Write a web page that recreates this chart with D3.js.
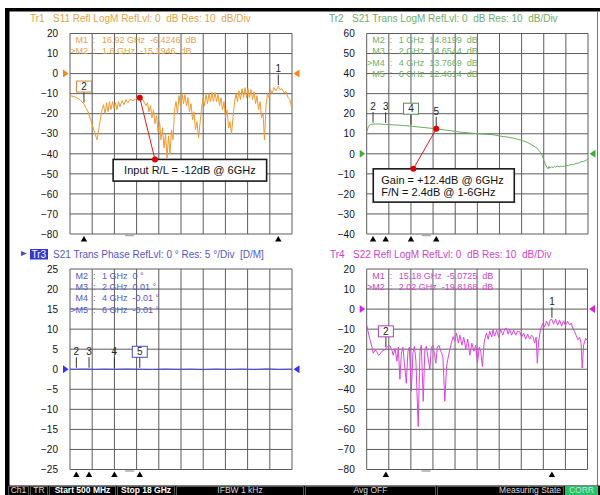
<!DOCTYPE html>
<meta charset="utf-8" />
<head>
  <script src="https://d3js.org/d3.v7.min.js"></script>
  <style>
    body { margin: 0; background: #fff; }
    svg text { font-family: "Liberation Sans", Arial, sans-serif; }
  </style>
</head>
<body>
  <div id="my_chart"></div>
</body>
<script>
  // sweep of the analyser, GHz
  var sweepStart = 0.5,
    sweepStop = 18;

  // y tick labels of each trace window
  var tr1Ticks = [20, 10, 0, -10, -20, -30, -40, -50, -60, -70, -80];
  var tr2Ticks = [60, 50, 40, 30, 20, 10, 0, -10, -20, -30, -40];
  var tr3Ticks = [25, 20, 15, 10, 5, 0, -5, -10, -15, -20, -25];
  var tr4Ticks = [20, 10, 0, -10, -20, -30, -40, -50, -60, -70, -80];

  // S11 refl, [GHz, dB]
  var tr1Trace = [
    [0.5, -11.0], [0.89, -11.6], [1.29, -13.0], [1.6, -15.2], [1.92, -19.0], [2.23, -25.0], [2.47, -30.0], [2.63, -33.0],
    [2.79, -27.0], [2.94, -21.0], [3.02, -18.0], [3.14, -15.5], [3.26, -20.0], [3.38, -14.5], [3.5, -19.0], [3.61, -14.0],
    [3.73, -18.0], [3.85, -14.0], [3.97, -17.5], [4.09, -14.5], [4.2, -18.0], [4.32, -14.0], [4.44, -16.5], [4.6, -13.5],
    [4.76, -15.5], [4.91, -13.0], [5.07, -14.5], [5.23, -12.8], [5.47, -13.5], [5.78, -12.3], [6.0, -12.0], [6.25, -13.2],
    [6.49, -16.0], [6.61, -14.5], [6.73, -19.0], [6.85, -16.0], [6.96, -22.0], [7.08, -18.0], [7.2, -25.0], [7.32, -21.0],
    [7.44, -29.0], [7.56, -24.0], [7.67, -33.0], [7.79, -27.0], [7.91, -37.0], [8.03, -30.0], [8.15, -42.0], [8.27, -31.0],
    [8.38, -40.0], [8.5, -28.0], [8.62, -33.0], [8.74, -18.0], [8.86, -14.0], [8.97, -20.0], [9.09, -11.0], [9.21, -16.0],
    [9.33, -10.0], [9.45, -15.0], [9.56, -10.5], [9.68, -16.0], [9.8, -12.0], [9.92, -19.0], [10.04, -15.0], [10.16, -23.0],
    [10.27, -19.0], [10.39, -28.0], [10.51, -24.0], [10.63, -32.0], [10.75, -25.0], [10.86, -18.0], [10.98, -12.0],
    [11.1, -16.0], [11.22, -10.5], [11.34, -15.0], [11.46, -10.0], [11.58, -14.0], [11.69, -9.5], [11.81, -14.0],
    [11.93, -9.5], [12.05, -14.0], [12.17, -10.5], [12.29, -16.0], [12.4, -12.0], [12.52, -18.0], [12.64, -14.0],
    [12.76, -22.0], [12.88, -18.0], [13.0, -27.0], [13.11, -24.0], [13.23, -30.0], [13.35, -22.0], [13.47, -14.0],
    [13.59, -10.0], [13.7, -14.0], [13.82, -8.5], [13.94, -13.0], [14.06, -7.5], [14.18, -12.0], [14.3, -7.0],
    [14.42, -12.0], [14.53, -7.5], [14.65, -12.0], [14.77, -8.0], [14.89, -13.0], [15.01, -9.0], [15.13, -15.0],
    [15.24, -11.0], [15.36, -18.0], [15.48, -14.0], [15.6, -22.0], [15.72, -20.0], [15.83, -33.0], [15.95, -16.0],
    [16.07, -10.0], [16.19, -12.0], [16.31, -8.0], [16.43, -10.0], [16.58, -7.0], [16.74, -8.5], [16.92, -6.4],
    [17.05, -8.0], [17.21, -7.5], [17.37, -9.5], [17.53, -9.0], [17.69, -12.0], [17.84, -13.0], [18.0, -18.0]
  ];

  // S21 trans, [GHz, dB]
  var tr2Trace = [
    [0.5, 10.8], [0.6, 13.0], [0.76, 14.6], [1.0, 14.82], [1.47, 14.9], [2.0, 14.65], [2.98, 14.3], [4.0, 13.77],
    [5.03, 13.1], [6.0, 12.46], [6.93, 11.7], [7.88, 10.8], [9.14, 10.1], [10.49, 9.5], [11.28, 8.6], [11.6, 8.4],
    [11.91, 8.0], [12.15, 7.8], [12.39, 7.3], [12.7, 6.8], [12.94, 6.3], [13.2, 5.7], [13.41, 5.0], [13.73, 3.8],
    [13.97, 2.8], [14.2, 1.0], [14.36, -0.5], [14.52, -3.5], [14.68, -6.0], [14.84, -7.5], [14.92, -6.3], [14.99, -7.2],
    [15.1, -6.5], [15.23, -6.9], [15.35, -6.2], [15.45, -6.7], [15.55, -6.0], [15.7, -6.5], [15.87, -6.1], [16.0, -6.4],
    [16.26, -5.8], [16.45, -5.9], [16.66, -5.3], [16.85, -5.4], [17.05, -4.8], [17.25, -4.6], [17.45, -4.0],
    [17.65, -3.8], [17.84, -3.2], [18.0, -2.6]
  ];

  // S21 phase, [GHz, deg]
  var tr3Trace = [
    [0.5, 0], [1.0, 0], [1.5, 0.05], [2.0, 0.01], [2.5, -0.05], [3.0, 0.03], [4.0, -0.01], [5.0, 0.05], [6.0, -0.01],
    [7.0, -0.06], [8.0, 0.04], [9.0, -0.03], [10.0, 0.02], [11.0, -0.08], [12.0, 0.05], [13.0, -0.05], [14.0, 0.03],
    [15.0, -0.06], [16.0, 0.08], [17.0, -0.04], [18.0, 0.02]
  ];

  // S22 refl, [GHz, dB]
  var tr4Trace = [
    [0.5, -8.0], [0.6, -11.0], [0.76, -15.3], [0.92, -19.0], [1.02, -22.0], [1.16, -20.5], [1.29, -21.0], [1.43, -23.0],
    [1.55, -22.5], [1.71, -21.0], [1.87, -20.5], [2.02, -19.8], [2.18, -18.5], [2.34, -18.3], [2.5, -20.5], [2.6, -23.0],
    [2.74, -19.5], [2.9, -26.0], [3.01, -19.0], [3.13, -35.0], [3.25, -22.0], [3.37, -19.0], [3.49, -27.0], [3.64, -37.0],
    [3.77, -21.0], [3.88, -19.0], [4.04, -41.0], [4.16, -22.0], [4.28, -18.5], [4.4, -26.0], [4.58, -58.6], [4.72, -21.0],
    [4.83, -18.0], [4.98, -46.0], [5.11, -20.0], [5.23, -18.5], [5.35, -24.0], [5.51, -30.0], [5.62, -19.0], [5.74, -18.0],
    [5.86, -22.0], [5.98, -27.0], [6.1, -19.0], [6.22, -18.0], [6.38, -21.0], [6.54, -24.0], [6.69, -46.0], [6.83, -28.6],
    [6.93, -25.0], [7.09, -20.0], [7.25, -16.0], [7.35, -13.7], [7.48, -16.0], [7.62, -12.0], [7.76, -17.0], [7.88, -13.0],
    [8.04, -18.0], [8.19, -14.0], [8.35, -20.0], [8.51, -15.0], [8.67, -23.0], [8.83, -17.0], [8.99, -21.0], [9.14, -18.0],
    [9.28, -27.0], [9.42, -19.0], [9.54, -21.0], [9.67, -28.6], [9.82, -16.0], [9.99, -12.0], [10.13, -15.0], [10.25, -11.0],
    [10.41, -14.0], [10.51, -10.3], [10.64, -13.5], [10.8, -10.5], [10.96, -14.0], [11.12, -10.0], [11.28, -13.0],
    [11.44, -10.0], [11.57, -9.5], [11.71, -12.5], [11.83, -10.0], [11.99, -13.0], [12.15, -10.5], [12.31, -13.0],
    [12.46, -11.0], [12.62, -11.2], [12.78, -14.0], [12.94, -12.0], [13.1, -15.0], [13.26, -12.5], [13.41, -15.0],
    [13.57, -13.0], [13.67, -13.7], [13.81, -17.0], [13.93, -14.0], [14.02, -27.0], [14.13, -16.0], [14.28, -10.0],
    [14.47, -7.0], [14.6, -9.0], [14.76, -6.0], [14.92, -8.5], [15.03, -5.5], [15.18, -5.07], [15.31, -7.5], [15.47, -5.0],
    [15.63, -8.0], [15.79, -5.5], [15.95, -8.5], [16.1, -5.8], [16.26, -8.0], [16.42, -6.0], [16.58, -8.0], [16.71, -7.0],
    [16.86, -10.0], [16.98, -11.2], [17.09, -13.0], [17.24, -15.3], [17.37, -14.0], [17.49, -17.0], [17.58, -29.4],
    [17.69, -18.0], [17.85, -14.5], [17.97, -15.5], [18.0, -15.0]
  ];

  // markers of each trace
  var tr1Markers = [
    { name: "M1", id: "1", f: 16.92, v: -6.4246, read: "16.92 GHz  -6.4246  dB" },
    { name: ">M2", id: "2", f: 1.6, v: -15.1946, read: "1.6 GHz  -15.1946  dB", active: true }
  ];
  var tr2Markers = [
    { name: "M2", id: "2", f: 1, v: 14.8199, read: "1 GHz  14.8199  dB" },
    { name: "M3", id: "3", f: 2, v: 14.6544, read: "2 GHz  14.6544  dB" },
    { name: ">M4", id: "4", f: 4, v: 13.7669, read: "4 GHz  13.7669  dB", active: true },
    { name: "M5", id: "5", f: 6, v: 12.4614, read: "6 GHz  12.4614  dB" }
  ];
  var tr3Markers = [
    { name: "M2", id: "2", f: 1, v: 0, read: "1 GHz  0 \u00b0" },
    { name: "M3", id: "3", f: 2, v: 0.01, read: "2 GHz  0.01 \u00b0" },
    { name: "M4", id: "4", f: 4, v: -0.01, read: "4 GHz  -0.01 \u00b0" },
    { name: ">M5", id: "5", f: 6, v: -0.01, read: "6 GHz  -0.01 \u00b0", active: true }
  ];
  var tr4Markers = [
    { name: "M1", id: "1", f: 15.18, v: -5.0725, read: "15.18 GHz  -5.0725  dB" },
    { name: ">M2", id: "2", f: 2.02, v: -19.8168, read: "2.02 GHz  -19.8168  dB", active: true }
  ];

  // callout texts
  var tr1Note = ["Input R/L = -12dB @ 6GHz"];
  var tr2Note = ["Gain = +12.4dB @ 6GHz", "F/N = 2.4dB @ 1-6GHz"];

  // status line
  var statusItems = ["Ch1", "TR", "Start 500 MHz", "Stop 18 GHz", "IFBW 1 kHz", "Avg OFF", "Measuring State", "CORR"];

  var svg = d3
    .select("#my_chart")
    .append("svg")
    .attr("width", 600)
    .attr("height", 495);

  svg.append("rect").attr("width", 600).attr("height", 495).attr("fill", "#fff");

  // instrument frame
  svg.append("rect").attr("x", 5).attr("y", 8).attr("width", 595).attr("height", 3.5).attr("fill", "#000");
  svg.append("rect").attr("x", 5).attr("y", 8).attr("width", 4.5).attr("height", 480).attr("fill", "#000");
  svg.append("line").attr("x1", 597.5).attr("x2", 597.5).attr("y1", 11).attr("y2", 487).attr("stroke", "#777");

  function drawPanel(p) {
    var x = d3.scaleLinear().domain([sweepStart, sweepStop]).range([p.x0, p.x1]);
    var y = d3
      .scaleLinear()
      .domain([p.ticks[p.ticks.length - 1], p.ticks[0]])
      .range([p.y1, p.y0]);
    var g = svg.append("g");

    // title
    if (p.tagged) {
      g.append("path")
        .attr("d", "M" + (p.titleX - 32) + "," + (p.titleY - 7) + "l6,2.5l-6,2.5z")
        .attr("fill", p.color);
      g.append("rect")
        .attr("x", p.titleX - 23)
        .attr("y", p.titleY - 9)
        .attr("width", 18)
        .attr("height", 10.5)
        .attr("fill", "#3535d8");
      g.append("text")
        .attr("x", p.titleX - 21.5)
        .attr("y", p.titleY - 0.5)
        .attr("fill", "#fff")
        .style("font-size", "10px")
        .text("Tr3");
    }
    g.append("text")
      .attr("x", p.titleX)
      .attr("y", p.titleY)
      .attr("fill", p.textColor)
      .style("font-size", "10px")
      .style("white-space", "pre")
      .text(p.title);

    // grid
    g.selectAll(".hgrid")
      .data(p.ticks)
      .enter()
      .append("line")
      .attr("x1", p.x0)
      .attr("x2", p.x1)
      .attr("y1", function (d) { return y(d); })
      .attr("y2", function (d) { return y(d); })
      .attr("stroke", "#5c5c5c");
    var divs = d3.range(11).map(function (i) {
      return sweepStart + (i * (sweepStop - sweepStart)) / 10;
    });
    g.selectAll(".vgrid")
      .data(divs)
      .enter()
      .append("line")
      .attr("x1", function (d) { return x(d); })
      .attr("x2", function (d) { return x(d); })
      .attr("y1", p.y0)
      .attr("y2", p.y1)
      .attr("stroke", "#5c5c5c");

    // y labels
    var ax = g
      .append("g")
      .attr("transform", "translate(" + p.x0 + ",0)")
      .attr("font-family", "Liberation Sans, Arial, sans-serif")
      .call(d3.axisLeft(y).tickValues(p.ticks).tickSize(0).tickPadding(12));
    ax.select(".domain").remove();
    ax.selectAll("text").attr("fill", "#111").style("font-size", "10px");

    // marker readout
    p.markers.forEach(function (m, i) {
      var ty = p.y0 + 9.5 + i * 11.4;
      var t = g.append("g").attr("fill", p.textColor).style("font-size", "9px");
      t.append("text").attr("x", p.x0 + 18).attr("y", ty).attr("text-anchor", "end").text(m.name);
      t.append("text").attr("x", p.x0 + 23).attr("y", ty).text(":");
      t.append("text").attr("x", p.x0 + 32).attr("y", ty).style("white-space", "pre").text(m.read);
    });

    // trace
    var line = d3
      .line()
      .x(function (d) { return x(d[0]); })
      .y(function (d) { return y(d[1]); });
    g.append("path")
      .datum(p.trace)
      .attr("d", line)
      .attr("fill", "none")
      .attr("stroke", p.color)
      .attr("stroke-width", 1);

    // reference level arrows
    g.append("path")
      .attr("d", "M" + (p.x0 - 7) + "," + (y(0) - 4) + "L" + (p.x0 - 1.5) + "," + y(0) + "L" + (p.x0 - 7) + "," + (y(0) + 4) + "Z")
      .attr("fill", p.arrowColor);
    g.append("path")
      .attr("d", "M" + (p.x1 + 7.5) + "," + (y(0) - 4) + "L" + (p.x1 + 1.5) + "," + y(0) + "L" + (p.x1 + 7.5) + "," + (y(0) + 4) + "Z")
      .attr("fill", p.arrowColor);

    // scroll dash under the grid
    g.append("line")
      .attr("x1", x(5.2) - 4.5)
      .attr("x2", x(5.2) + 4.5)
      .attr("y1", p.y1 + 1.5)
      .attr("y2", p.y1 + 1.5)
      .attr("stroke", "#aaa")
      .attr("stroke-width", 1.5);

    // markers
    p.markers.forEach(function (m) {
      var mx = x(m.f),
        my = y(m.v),
        ly = my - 17.5;
      g.append("line")
        .attr("x1", mx)
        .attr("x2", mx)
        .attr("y1", ly + 5.5)
        .attr("y2", my - 1.5)
        .attr("stroke", "#333");
      if (m.active) {
        g.append("rect")
          .attr("x", mx - 7.5)
          .attr("y", ly - 5.5)
          .attr("width", 15)
          .attr("height", 11)
          .attr("fill", "#fff")
          .attr("stroke", p.boxColor);
      }
      g.append("text")
        .attr("x", mx)
        .attr("y", ly + 3.5)
        .attr("text-anchor", "middle")
        .attr("fill", "#222")
        .style("font-size", "10px")
        .text(m.id);
      g.append("path")
        .attr("d", "M" + mx + "," + (p.y1 + 2) + "l3.2,5.5h-6.4z")
        .attr("fill", "#000");
    });

    // callout
    if (p.note) {
      var n = p.note;
      var ax0 = x(n.from[0]), ay0 = y(n.from[1]);
      var ax1 = x(n.to[0]), ay1 = y(n.to[1]);
      g.append("line")
        .attr("x1", ax0).attr("y1", ay0)
        .attr("x2", ax1).attr("y2", ay1)
        .attr("stroke", "#e41a1a");
      var bx = x(n.box[0]), by = y(n.box[2]);
      var bw = x(n.box[1]) - bx, bh = y(n.box[3]) - by;
      g.append("rect")
        .attr("x", bx).attr("y", by)
        .attr("width", bw).attr("height", bh)
        .attr("fill", "#fff")
        .attr("stroke", "#1a1a1a")
        .attr("stroke-width", 1.6);
      n.lines.forEach(function (s, i) {
        g.append("text")
          .attr("x", n.center ? bx + bw / 2 : bx + 8)
          .attr("y", by + 15 + i * 12)
          .attr("text-anchor", n.center ? "middle" : "start")
          .attr("fill", "#111")
          .style("font-size", "11px")
          .text(s);
      });
      [[ax0, ay0], [ax1, ay1]].forEach(function (d) {
        g.append("circle").attr("cx", d[0]).attr("cy", d[1]).attr("r", 3).attr("fill", "#e00000");
      });
    }
  }

  drawPanel({
    x0: 70, x1: 292, y0: 33.5, y1: 234, titleX: 30, titleY: 22,
    title: "Tr1   S11 Refl LogM RefLvl: 0  dB Res: 10  dB/Div",
    ticks: tr1Ticks, trace: tr1Trace, markers: tr1Markers,
    color: "#f29a2e", textColor: "#e3a24a", arrowColor: "#f08a10", boxColor: "#c98a3a",
    note: { lines: tr1Note, from: [6, -12], to: [7.2, -42.9], box: [3.9, 16.0, -42.8, -53.6], center: true }
  });
  drawPanel({
    x0: 366.7, x1: 588, y0: 33.5, y1: 234, titleX: 329, titleY: 22,
    title: "Tr2   S21 Trans LogM RefLvl: 0  dB Res: 10  dB/Div",
    ticks: tr2Ticks, trace: tr2Trace, markers: tr2Markers,
    color: "#6aae62", textColor: "#6fae68", arrowColor: "#3fae3f", boxColor: "#5a8a5a",
    note: { lines: tr2Note, from: [6, 12.46], to: [4.19, -7.5], box: [1.02, 12.17, -7.5, -24.1], center: false }
  });
  drawPanel({
    x0: 70, x1: 292, y0: 269, y1: 469.5, titleX: 53, titleY: 258, tagged: true,
    title: "S21 Trans Phase RefLvl: 0 \u00b0 Res: 5 \u00b0/Div  [D/M]",
    ticks: tr3Ticks, trace: tr3Trace, markers: tr3Markers,
    color: "#4848e0", textColor: "#5656cc", arrowColor: "#3434f0", boxColor: "#4a4acc"
  });
  drawPanel({
    x0: 366.7, x1: 587.5, y0: 269, y1: 469.5, titleX: 330, titleY: 258,
    title: "Tr4   S22 Refl LogM RefLvl: 0  dB Res: 10  dB/Div",
    ticks: tr4Ticks, trace: tr4Trace, markers: tr4Markers,
    color: "#dd44dd", textColor: "#cc44cc", arrowColor: "#e020e0", boxColor: "#b040b0"
  });

  // status line at the bottom
  var cells = [
    { x: 8, w: 20 }, { x: 30, w: 17 }, { x: 49, w: 66, bold: true }, { x: 117, w: 57, bold: true },
    { x: 176, w: 127 }, { x: 305, w: 130 }, { x: 437, w: 126, right: true }, { x: 565, w: 32, green: true }
  ];
  svg.append("rect").attr("x", 5).attr("y", 485.5).attr("width", 595).attr("height", 9.5).attr("fill", "#000");
  statusItems.forEach(function (s, i) {
    var c = cells[i];
    svg.append("rect")
      .attr("x", c.x + 0.5).attr("y", 486.5)
      .attr("width", c.w).attr("height", 10)
      .attr("fill", c.green ? "#22c46a" : "#000")
      .attr("stroke", c.green ? "#22c46a" : "#555");
    svg.append("text")
      .attr("x", c.right ? c.x + c.w - 2 : c.x + c.w / 2 + 0.5)
      .attr("y", 493.2)
      .attr("text-anchor", c.right ? "end" : "middle")
      .attr("fill", c.bold ? "#fff" : "#d8d8d8")
      .style("font-size", "8.5px")
      .style("font-weight", c.bold ? "bold" : "normal")
      .text(s);
  });
</script>
